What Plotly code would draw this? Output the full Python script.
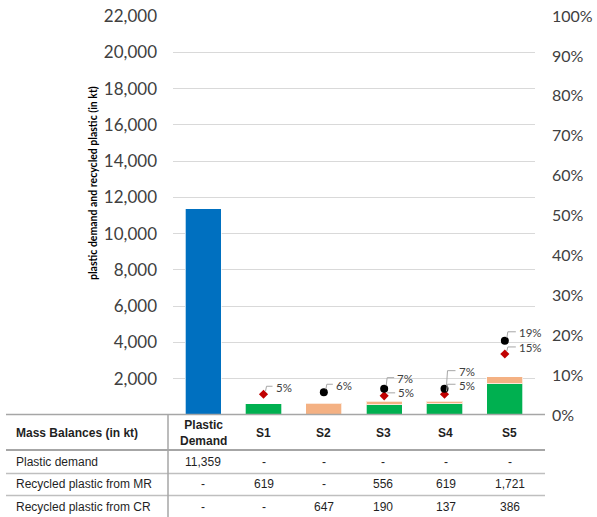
import plotly.graph_objects as go

# ---- data -------------------------------------------------------------
categories = ["Plastic Demand", "S1", "S2", "S3", "S4", "S5"]
header_labels = ["Plastic<br>Demand", "S1", "S2", "S3", "S4", "S5"]

plastic_demand = [11359, None, None, None, None, None]
recycled_mr = [None, 619, None, 556, 619, 1721]
recycled_cr = [None, None, 647, 190, 137, 386]

# shares of demand covered by recycled plastic (right axis)
share_total = [None, None, 0.057, 0.066, 0.066, 0.186]
share_mr = [None, 0.052, None, 0.048, 0.052, 0.153]

row_names = ["Plastic demand", "Recycled plastic from MR", "Recycled plastic from CR"]

# ---- layout geometry (pixels) -----------------------------------------
W, H = 597, 517
PL, PR, PT, PB = 173, 535, 16, 415          # plot area edges


def px(x):
    return (x - PL) / (PR - PL)


def py(y):
    return (PB - y) / (PB - PT)


TICK_COLOR = "#404040"
TEXT_COLOR = "#1f1f1f"
idx = list(range(len(categories)))

fig = go.Figure()

bar_line = dict(color="rgba(255,255,255,0.7)", width=1)
fig.add_trace(go.Bar(x=idx, y=plastic_demand, marker=dict(color="#0070c0", line=bar_line),
                     width=0.6, name="Plastic demand"))
fig.add_trace(go.Bar(x=idx, y=recycled_mr, marker=dict(color="#00b050", line=bar_line),
                     width=0.6, name="Recycled plastic from MR"))
fig.add_trace(go.Bar(x=idx, y=recycled_cr, marker=dict(color="#f4b183", line=bar_line),
                     width=0.6, name="Recycled plastic from CR"))

fig.add_trace(go.Scatter(x=idx, y=share_mr, yaxis="y2", mode="markers",
                         marker=dict(symbol="diamond", size=7, color="#c00000"),
                         name="MR share"))
fig.add_trace(go.Scatter(x=idx, y=share_total, yaxis="y2", mode="markers",
                         marker=dict(symbol="circle", size=8, color="#000000"),
                         name="Total share"))

# label placement for the share values: (right shift, upward shift) in px
total_label_offsets = [None, (10, 7), (11, 10), (12, 17), (12, 8)]
mr_label_offsets = [(10, 7), None, (12, 3), (12, 9), (12, 6)]

shapes = []
annotations = []


def add_share_label(i, value, offset):
    dx, dy = offset
    annotations.append(dict(
        x=i, y=value, xref="x", yref="y2", xshift=dx, yshift=dy,
        text=f"{value:.0%}", showarrow=False, xanchor="left", yanchor="middle",
        font=dict(family="Lato", size=11.5, color="#404040")))
    if dy > 4:
        path = f"M 2,3 L 3,{dy + 1} L {dx - 1},{dy + 1}"
    else:
        path = f"M 3,{dy} L {dx - 1},{dy}"
    shapes.append(dict(
        type="path", xref="x", yref="y2", xsizemode="pixel", ysizemode="pixel",
        xanchor=i, yanchor=value, path=path,
        line=dict(color="#a6a6a6", width=1)))


for i, v in enumerate(share_total):
    if v is not None:
        add_share_label(i, v, total_label_offsets[i - 1])
for i, v in enumerate(share_mr):
    if v is not None:
        add_share_label(i, v, mr_label_offsets[i - 1])

# ---- table under the chart --------------------------------------------
TABLE_LEFT, TABLE_RIGHT = 6, 545
table_font = dict(family="Liberation Sans", size=12, color=TEXT_COLOR)
table_bold = dict(family="Liberation Sans", size=12, color=TEXT_COLOR, weight="bold")

line_specs = [(414.5, "#a6a6a6", 1.5), (450, "#a6a6a6", 2), (473.5, "#bfbfbf", 1.5),
              (495.5, "#bfbfbf", 1.5)]
for y, c, w in line_specs:
    shapes.append(dict(type="line", xref="paper", yref="paper",
                       x0=px(TABLE_LEFT), x1=px(TABLE_RIGHT), y0=py(y), y1=py(y),
                       line=dict(color=c, width=w)))
shapes.append(dict(type="line", xref="paper", yref="paper",
                   x0=px(168), x1=px(168), y0=py(414.5), y1=py(H),
                   line=dict(color="#a6a6a6", width=1.5)))

row_centers = [462, 484.5, 507]
col_shift = [0, 0, 0, -1, 1, 5]
TEXT_LEFT = 14

annotations.append(dict(x=px(TEXT_LEFT), y=py(433), xref="paper", yref="paper",
                        text="<b>Mass Balances (in kt)</b>", showarrow=False,
                        xanchor="left", yanchor="middle", font=table_bold))
for i, lab in enumerate(header_labels):
    annotations.append(dict(x=i, y=py(433), xref="x", yref="paper", xshift=col_shift[i],
                            text=f"<b>{lab}</b>", showarrow=False, xanchor="center",
                            yanchor="middle", font=table_bold))

for r, (name, series) in enumerate(zip(row_names, [plastic_demand, recycled_mr, recycled_cr])):
    yc = py(row_centers[r])
    annotations.append(dict(x=px(TEXT_LEFT), y=yc, xref="paper", yref="paper", text=name,
                            showarrow=False, xanchor="left", yanchor="middle",
                            font=table_font))
    for i, v in enumerate(series):
        txt = "-" if v is None else f"{v:,}"
        annotations.append(dict(x=i, y=yc, xref="x", yref="paper", xshift=col_shift[i],
                                text=txt, showarrow=False, xanchor="center",
                                yanchor="middle", font=table_font))

# rotated left-axis title
annotations.append(dict(x=px(93), y=py(183), xref="paper", yref="paper",
                        text="<b>plastic demand and recycled plastic (in kt)</b>",
                        textangle=-90, showarrow=False, xanchor="center", yanchor="middle",
                        font=dict(family="Lato", size=10.5, color="#000000")))

fig.update_layout(
    width=W, height=H,
    margin=dict(l=PL, r=W - PR, t=PT, b=H - PB, pad=0),
    paper_bgcolor="white", plot_bgcolor="white",
    barmode="stack", bargap=0.4, showlegend=False,
    xaxis=dict(range=[-0.5, 5.5], showticklabels=False, showgrid=False, zeroline=False,
               showline=False, ticks="", automargin=False),
    yaxis=dict(range=[0, 22000], tickformat=",", showgrid=True,
               gridcolor="#d9d9d9", gridwidth=1, zeroline=False, showline=False,
               ticks="", ticklabelstandoff=15, automargin=False,
               tickfont=dict(family="Lato", size=17, color=TICK_COLOR),
               tickvals=[2000 * k for k in range(1, 12)]),
    yaxis2=dict(range=[0, 1], dtick=0.1, tickformat=".0%", overlaying="y", side="right",
                showgrid=False, zeroline=False, showline=False, ticks="",
                ticklabelstandoff=16, automargin=False,
                tickfont=dict(family="Lato", size=16, color=TICK_COLOR)),
    shapes=shapes,
    annotations=annotations,
)

fig.write_html("out.html")
